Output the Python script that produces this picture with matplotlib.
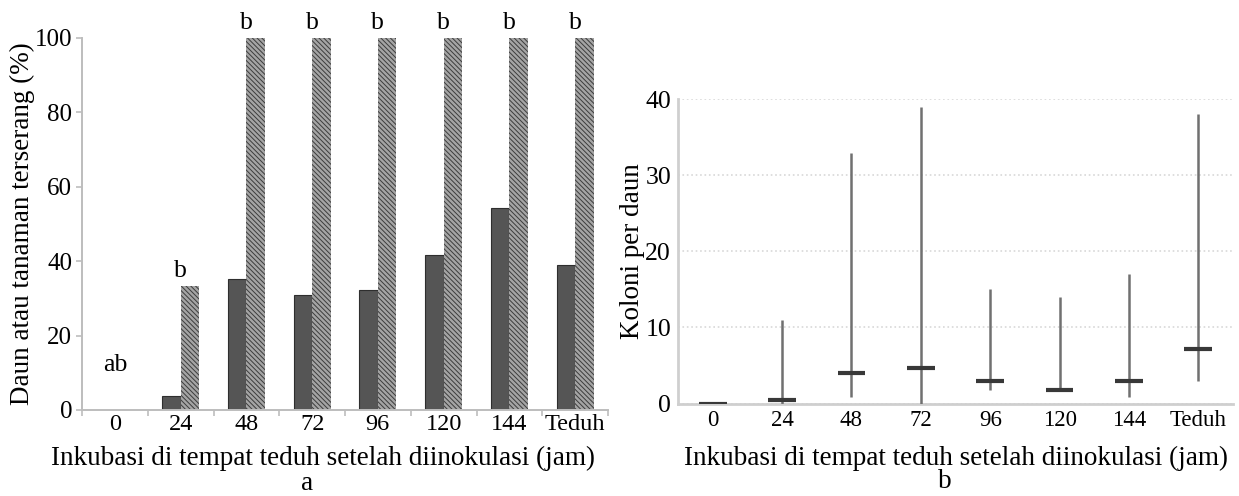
import numpy as np
from matplotlib import pyplot as plt

plt.rcParams['font.family'] = ['Liberation Serif', 'DejaVu Serif']
plt.rcParams['hatch.linewidth'] = 0.7

# categories (jam inkubasi di tempat teduh)
kategori = ['0', '24', '48', '72', '96', '120', '144', 'Teduh']

# panel a: daun terserang (gelap) dan tanaman terserang (arsir), %
daun = [0, 3.8, 35.2, 30.9, 32.2, 41.6, 54.2, 39.0]
tanaman = [0, 33.3, 100, 100, 100, 100, 100, 100]
huruf = ['ab', 'b', 'b', 'b', 'b', 'b', 'b', 'b']

# panel b: koloni per daun (min, median, max)
kol_min = [0, 0, 0.9, 0, 1.8, 1.8, 0.9, 2.9]
kol_med = [0, 0.4, 4.0, 4.7, 3.0, 1.8, 3.0, 7.2]
kol_max = [0, 11, 33, 39, 15, 14, 17, 38]

W, H = 1239, 496
fig = plt.figure(figsize=(W / 100, H / 100), dpi=100)
grey = '#bdbdbd'
x = np.arange(len(kategori))

## a
ax = fig.add_axes([82 / W, 1 - 410 / H, 526 / W, 372.3 / H])
bw = 0.28
ax.bar(x - bw / 2, daun, bw, color='#555555', edgecolor='#2e2e2e', linewidth=0.8)
ax.bar(x + bw / 2, tanaman, bw, color='#a4a4a4', edgecolor='#3c3c3c', linewidth=0, hatch='\\' * 7)
for i, (t, v) in enumerate(zip(huruf, tanaman)):
    # zero bar: letter sits a bit higher like in the original
    ax.annotate(t, (i, max(v, 8)), xytext=(0, 3), textcoords='offset points',
                ha='center', va='bottom', fontsize=18.5, annotation_clip=False)
ax.set_xlim(-0.5, len(kategori) - 0.5)
ax.set_ylim(0, 100)
ax.set_yticks(range(0, 101, 20))
ax.set_xticks(x, kategori)
ax.set_xticks(np.arange(-0.5, len(kategori)), minor=True)
ax.tick_params(axis='x', which='major', length=0, labelsize=17.5, pad=3)
ax.tick_params(axis='x', which='minor', length=4, color=grey, width=1.2)
ax.tick_params(axis='y', length=4, color=grey, width=1.2, labelsize=18, pad=3)
for s in ('top', 'right'):
    ax.spines[s].set_visible(False)
for s in ('left', 'bottom'):
    ax.spines[s].set_color(grey)
    ax.spines[s].set_linewidth(1.4)
ax.set_ylabel('Daun atau tanaman terserang (%)', fontsize=19.5)
ax.yaxis.set_label_coords(-0.089, 0.5)
ax.set_xlabel('Inkubasi di tempat teduh setelah diinokulasi (jam)', fontsize=19.5)
ax.xaxis.set_label_coords(0.459, -0.095)
fig.text(307 / W, 1 - 484 / H, 'a', ha='center', va='center', fontsize=19.5)

## b
bx = fig.add_axes([678 / W, 1 - 403.5 / H, 555 / W, 305 / H])
bx.vlines(x, kol_min, kol_max, color='#707070', linewidth=1.8, zorder=3)
bx.hlines(kol_med, x - 0.2, x + 0.2, color='#383838', linewidth=3, zorder=4)
bx.set_xlim(-0.5, len(kategori) - 0.5)
bx.set_ylim(0, 40.1)
bx.set_yticks(range(0, 41, 10))
bx.set_xticks(x, kategori)
bx.grid(axis='y', color='#d8d8d8', linestyle=':', linewidth=1.2)
bx.set_axisbelow(True)
bx.tick_params(axis='x', length=0, labelsize=16.5, pad=5)
bx.tick_params(axis='y', length=0, labelsize=18.5, pad=5)
for s in ('top', 'right'):
    bx.spines[s].set_visible(False)
for s in ('left', 'bottom'):
    bx.spines[s].set_color('#cfcfcf')
    bx.spines[s].set_linewidth(2)
bx.set_ylabel('Koloni per daun', fontsize=19.5)
bx.yaxis.set_label_coords(-0.059, 0.5)
bx.set_xlabel('Inkubasi di tempat teduh setelah diinokulasi (jam)', fontsize=19.5)
bx.xaxis.set_label_coords(0.5, -0.14)
fig.text(945 / W, 1 - 482 / H, 'b', ha='center', va='center', fontsize=19.5)

fig.savefig('out.png', dpi=100)
